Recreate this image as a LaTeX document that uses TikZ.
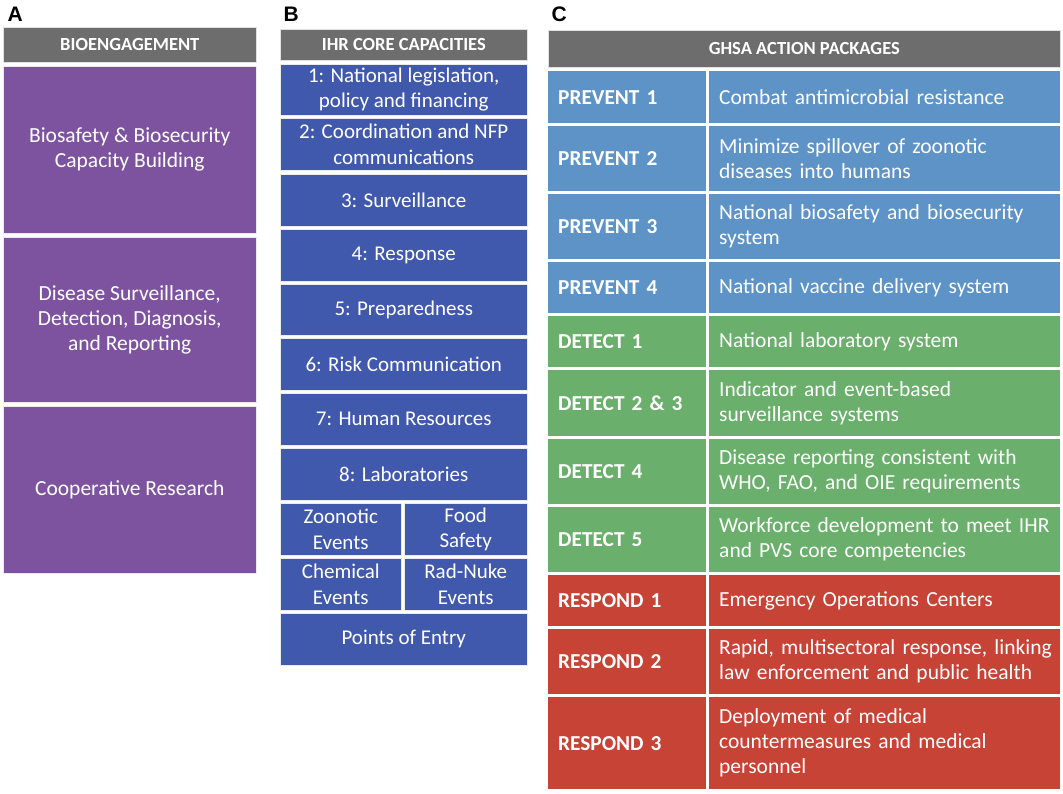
\documentclass[tikz,border=0pt]{standalone}
\usepackage{fontspec}
\setmainfont{Carlito}
\newfontfamily\lblfont{Liberation Sans}
\definecolor{hdrgray}{HTML}{6D6D6D}
\definecolor{apurple}{HTML}{7D53A0}
\definecolor{bblue}{HTML}{4159AD}
\definecolor{cblue}{HTML}{5D93C6}
\definecolor{cgreen}{HTML}{6AAF6B}
\definecolor{cred}{HTML}{C64335}
\tikzset{
  panellabel/.style={anchor=base west, font=\lblfont\bfseries\fontsize{21}{24}\selectfont, text=black},
  hdr/.style={anchor=north west, fill=hdrgray, draw=black!12, line width=0.6pt, text=white,
    font=\bfseries\fontsize{18.5}{22}\selectfont},
  abox/.style={anchor=north west, fill=apurple, draw=black!8, line width=0.5pt, text=white, align=center,
    font=\fontsize{21.5}{24.7}\selectfont},
  bbox/.style={anchor=north west, fill=bblue, draw=black!8, line width=0.5pt, text=white, align=center,
    font=\fontsize{21}{25.5}\selectfont},
  clab/.style={anchor=north west, text=white, align=left, inner xsep=10pt, inner ysep=0pt,
    text width=138pt, font=\bfseries\fontsize{21.3}{25}\selectfont},
  cdesc/.style={anchor=north west, text=white, align=left, inner xsep=10pt, inner ysep=0pt,
    text width=331pt, font=\fontsize{21.5}{25}\selectfont},
}
% name, x, y, width, height, style, text
\newcommand\mybox[7]{\node[#6, minimum width=#4, minimum height=#5, inner sep=0pt] (#1) at (#2,#3) {#7};}
% name, y1, height, colour, label, description
\newcommand\crow[6]{%
  \node[clab, fill=#4, minimum height=#3] (#1l) at (548,#2) {#5};
  \node[cdesc, fill=#4, minimum height=#3] (#1d) at (709,#2) {#6};}
\begin{document}
\begin{tikzpicture}[x=1pt,y=-1pt]
\useasboundingbox[fill=white] (0,0) rectangle (1063,794);
% labels
\node[panellabel] (labA) at (4,22) {A};
\node[panellabel] (labB) at (280,22) {B};
\node[panellabel] (labC) at (548,22) {C};
% Panel A
\mybox{ahdr}{3}{27}{253}{35}{hdr}{BIOENGAGEMENT}
\mybox{a1}{3}{66}{253}{167}{abox}{Biosafety \& Biosecurity\\Capacity Building}
\mybox{a2}{3}{237}{253}{165}{abox}{Disease Surveillance,\\Detection, Diagnosis,\\and Reporting}
\mybox{a3}{3}{406}{253}{167}{abox}{Cooperative Research}
% Panel B
\mybox{bhdr}{280}{29}{247}{31}{hdr}{IHR CORE CAPACITIES}
\mybox{b1}{280}{64}{247}{51}{bbox}{1: National legislation,\\policy and financing}
\mybox{b2}{280}{118}{247}{52}{bbox}{2: Coordination and NFP\\communications}
\mybox{b3}{280}{174}{247}{52}{bbox}{3: Surveillance}
\mybox{b4}{280}{229}{247}{52}{bbox}{4: Response}
\mybox{b5}{280}{284}{247}{51}{bbox}{5: Preparedness}
\mybox{b6}{280}{338}{247}{52}{bbox}{6: Risk Communication}
\mybox{b7}{280}{393}{247}{52}{bbox}{7: Human Resources}
\mybox{b8}{280}{448}{247}{52}{bbox}{8: Laboratories}
\mybox{bz}{280}{503}{121}{52}{bbox}{Zoonotic\\Events}
\mybox{bf}{404}{503}{123}{52}{bbox}{Food\\Safety}
\mybox{bc}{280}{558}{121}{52}{bbox}{Chemical\\Events}
\mybox{br}{404}{558}{123}{52}{bbox}{Rad-Nuke\\Events}
\mybox{bp}{280}{613}{247}{52}{bbox}{Points of Entry}
% Panel C
\mybox{chdr}{548}{30}{512}{37}{hdr}{GHSA ACTION PACKAGES}
\crow{p1}{71}{52}{cblue}{PREVENT 1}{Combat antimicrobial resistance}
\crow{p2}{126}{65}{cblue}{PREVENT 2}{Minimize spillover of zoonotic\\diseases into humans}
\crow{p3}{194}{65}{cblue}{PREVENT 3}{National biosafety and biosecurity\\system}
\crow{p4}{262}{51}{cblue}{PREVENT 4}{National vaccine delivery system}
\crow{d1}{316}{51}{cgreen}{DETECT 1}{National laboratory system}
\crow{d2}{370}{66}{cgreen}{DETECT 2 \& 3}{Indicator and event-based\\surveillance systems}
\crow{d4}{439}{65}{cgreen}{DETECT 4}{Disease reporting consistent with\\WHO, FAO, and OIE requirements}
\crow{d5}{507}{65}{cgreen}{DETECT 5}{Workforce development to meet IHR\\and PVS core competencies}
\crow{r1}{575}{51}{cred}{RESPOND 1}{Emergency Operations Centers}
\crow{r2}{629}{65}{cred}{RESPOND 2}{\mbox{Rapid, multisectoral response, linking}\\law enforcement and public health}
\crow{r3}{697}{92}{cred}{RESPOND 3}{Deployment of medical\\countermeasures and medical\\personnel}
\end{tikzpicture}
\end{document}
